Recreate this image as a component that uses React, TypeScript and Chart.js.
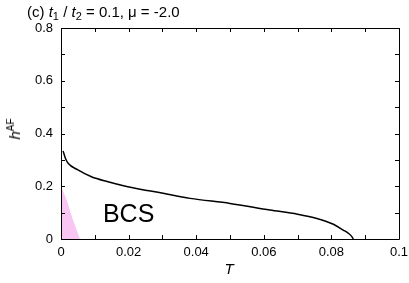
import React, { useEffect, useRef } from "react";
import { Chart, registerables } from "chart.js";

Chart.register(...registerables);

// Curve h^AF(T)
const curveT = [0.0006, 0.0009, 0.0013, 0.0021, 0.005, 0.009, 0.0139, 0.0188, 0.0238, 0.0287, 0.0382, 0.05, 0.0618, 0.0700, 0.0757, 0.0806, 0.0835, 0.0852, 0.0860, 0.0865];
const curveH = [0.334, 0.322, 0.306, 0.287, 0.262, 0.236, 0.217, 0.201, 0.188, 0.177, 0.154, 0.135, 0.110, 0.094, 0.078, 0.056, 0.034, 0.020, 0.010, 0.0];

// Pink region boundary
const pinkT = [0, 0.0017, 0.0032, 0.0056];
const pinkH = [0.2, 0.148, 0.085, 0];

const xMajorTicks = [0, 0.02, 0.04, 0.06, 0.08, 0.1];
const yMajorTicks = [0, 0.2, 0.4, 0.6, 0.8];
const regionLabel = "BCS";
const regionLabelPos = { T: 0.0124, h: 0.091 };

const FONT = '"Liberation Sans", Arial, Helvetica, sans-serif';

export default function App() {
  const ref = useRef<HTMLCanvasElement | null>(null);

  useEffect(() => {
    if (!ref.current) return;
    const framePlugin = {
      id: "frame",
      afterDraw(chart: any) {
        const { ctx, chartArea, scales } = chart;
        const { left, right, top, bottom } = chartArea;
        const x = scales.x;
        const y = scales.y;
        ctx.save();
        ctx.strokeStyle = "#000";
        ctx.lineWidth = 1;
        ctx.beginPath();
        ctx.rect(Math.round(left) + 0.5, Math.round(top) + 0.5, Math.round(right - left), Math.round(bottom - top));
        ctx.stroke();
        const tl = 4;
        ctx.beginPath();
        for (let i = 0; i <= 10; i++) {
          const px = Math.round(x.getPixelForValue(i * 0.01)) + 0.5;
          ctx.moveTo(px, bottom);
          ctx.lineTo(px, bottom - tl);
          ctx.moveTo(px, top);
          ctx.lineTo(px, top + tl);
        }
        for (let i = 0; i <= 8; i++) {
          const py = Math.round(y.getPixelForValue(i * 0.1)) + 0.5;
          ctx.moveTo(left, py);
          ctx.lineTo(left + tl, py);
          ctx.moveTo(right, py);
          ctx.lineTo(right - tl, py);
        }
        ctx.stroke();
        ctx.fillStyle = "#000";
        ctx.font = "25px " + FONT;
        ctx.textBaseline = "middle";
        ctx.textAlign = "left";
        ctx.fillText(regionLabel, x.getPixelForValue(regionLabelPos.T), y.getPixelForValue(regionLabelPos.h));
        ctx.restore();
      },
    };

    const chart = new Chart(ref.current, {
      type: "line",
      data: {
        datasets: [
          {
            data: pinkT.map((t, i) => ({ x: t, y: pinkH[i] })),
            borderWidth: 0,
            borderColor: "rgba(0,0,0,0)",
            backgroundColor: "#f9c6f3",
            fill: "origin",
            pointRadius: 0,
            tension: 0,
          },
          {
            data: curveT.map((t, i) => ({ x: t, y: curveH[i] })),
            borderColor: "#000",
            borderWidth: 1.5,
            fill: false,
            pointRadius: 0,
            cubicInterpolationMode: "monotone",
          },
        ],
      },
      options: {
        animation: false,
        responsive: false,
        events: [],
        layout: { padding: { left: 0, top: 28, right: 10, bottom: 0 } },
        plugins: { legend: { display: false }, tooltip: { enabled: false }, title: { display: false } },
        scales: {
          x: {
            type: "linear",
            min: 0,
            max: 0.1,
            grid: { display: false, drawTicks: false },
            border: { display: false },
            afterBuildTicks(scale: any) {
              scale.ticks = xMajorTicks.map((v) => ({ value: v }));
            },
            afterFit(scale: any) {
              scale.height = 44;
              scale.paddingLeft = 0;
              scale.paddingRight = 0;
            },
            ticks: {
              padding: 6,
              maxRotation: 0,
              autoSkip: false,
              color: "#000",
              font: { family: FONT, size: 13 },
              callback: (v: any) => String(+Number(v).toFixed(2)),
            },
          },
          y: {
            type: "linear",
            min: 0,
            max: 0.8,
            grid: { display: false, drawTicks: false },
            border: { display: false },
            afterBuildTicks(scale: any) {
              scale.ticks = yMajorTicks.map((v) => ({ value: v }));
            },
            afterFit(scale: any) {
              scale.width = 61;
              scale.paddingTop = 0;
              scale.paddingBottom = 0;
            },
            ticks: {
              padding: 8,
              autoSkip: false,
              color: "#000",
              font: { family: FONT, size: 13 },
              callback: (v: any) => String(+Number(v).toFixed(2)),
            },
          },
        },
      },
      plugins: [framePlugin],
    } as any);
    return () => chart.destroy();
  }, []);

  const subStyle: React.CSSProperties = { fontSize: "11px", verticalAlign: "-3px", lineHeight: 0 };
  const supStyle: React.CSSProperties = { fontSize: "10px", verticalAlign: "6px", lineHeight: 0 };

  return (
    <div style={{ position: "absolute", left: 0, top: 0, width: 409, height: 283, background: "#fff", fontFamily: FONT, color: "#000" }}>
      <canvas ref={ref} width={409} height={283} style={{ position: "absolute", left: 0, top: 0, width: 409, height: 283 }} />
      <div style={{ position: "absolute", left: 27, top: 3, fontSize: "15px", lineHeight: "17px", whiteSpace: "nowrap" }}>
        (c) <i>t</i><span style={subStyle}>1</span> / <i>t</i><span style={subStyle}>2</span> = 0.1, μ = -2.0
      </div>
      <div style={{ position: "absolute", left: 15, top: 129, width: 0, height: 0 }}>
        <div style={{ position: "absolute", transform: "translate(-50%, -50%) rotate(-90deg)", fontSize: "15px", lineHeight: "16px", whiteSpace: "nowrap" }}>
          <i>h</i><span style={supStyle}>AF</span>
        </div>
      </div>
      <div style={{ position: "absolute", left: 229, top: 269, width: 0, height: 0 }}>
        <div style={{ position: "absolute", transform: "translate(-50%, -50%)", fontSize: "15px", lineHeight: "16px", fontStyle: "italic", whiteSpace: "nowrap" }}>
          T
        </div>
      </div>
    </div>
  );
}
